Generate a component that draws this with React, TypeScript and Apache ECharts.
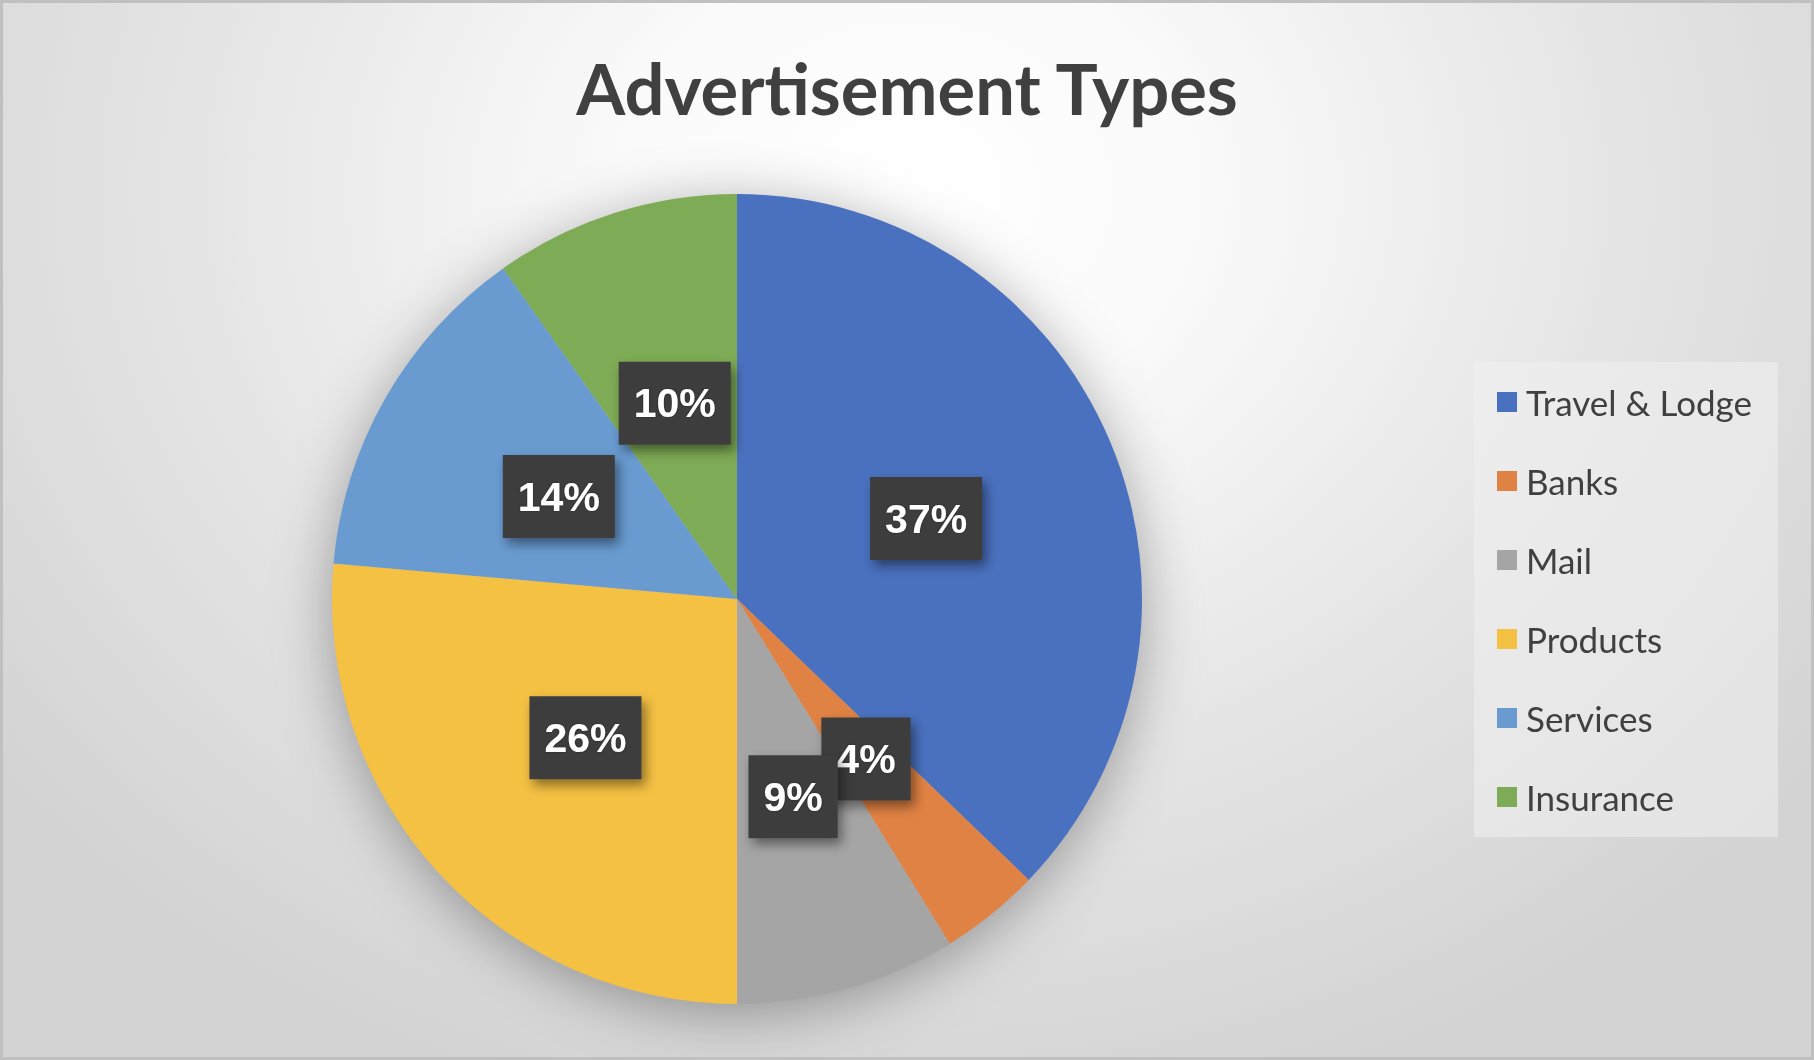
import React, { useEffect, useRef } from "react";
import * as echarts from "echarts";

const categories = ["Travel & Lodge", "Banks", "Mail", "Products", "Services", "Insurance"];
const values = [37.2, 4.0, 8.8, 26.4, 13.8, 9.8];
const colors = ["#4a71bf", "#e08243", "#a5a5a5", "#f5c143", "#699bd1", "#7eab55"];
const titleText = "Advertisement Types";

export default function App() {
  const ref = useRef<HTMLDivElement>(null);
  useEffect(() => {
    document.body.style.margin = "0";
    const chart = echarts.init(ref.current!, null, { renderer: "svg" });
    const data = categories.map((name, i) => ({
      name,
      value: values[i],
      itemStyle: { color: colors[i] },
    }));
    chart.setOption({
      animation: false,
      title: {
        text: titleText,
        left: "center",
        top: 47,
        textStyle: {
          fontFamily: "Lato",
          fontWeight: "bold",
          fontSize: 70.5,
          color: "#404040",
        },
      },
      legend: {
        orient: "vertical",
        left: 1497,
        top: 382,
        padding: 0,
        itemWidth: 20,
        itemHeight: 20,
        itemGap: 39,
        icon: "rect",
        data: categories,
        textStyle: {
          fontFamily: "Lato",
          fontSize: 35,
          lineHeight: 40,
          color: "#404040",
          padding: [0, 0, 0, 4],
        },
      },
      graphic: [
        {
          type: "rect",
          z: -10,
          shape: { x: 1474, y: 362, width: 304, height: 475 },
          style: { fill: "rgba(240,240,240,0.55)" },
        },
        {
          type: "circle",
          z: -5,
          shape: { cx: 737, cy: 599, r: 404 },
          style: {
            fill: "#bbbbbb",
            shadowBlur: 60,
            shadowOffsetY: 10,
            shadowColor: "rgba(0,0,0,0.35)",
          },
        },
      ],
      series: [
        {
          type: "pie",
          center: [737, 599],
          radius: [0, 405],
          startAngle: 90,
          clockwise: true,
          avoidLabelOverlap: false,
          labelLayout: { hideOverlap: false },
          data,
          itemStyle: { borderWidth: 0 },
          emphasis: { disabled: true },
          labelLine: { show: false },
          label: {
            show: true,
            position: "inside",
            formatter: (p: any) => Math.round(p.percent) + "%",
            fontFamily: "Liberation Sans",
            fontWeight: "bold",
            fontSize: 41,
            lineHeight: 41,
            color: "#ffffff",
            backgroundColor: "#3e3e3e",
            padding: [21, 15],
            shadowBlur: 12,
            shadowOffsetX: 4,
            shadowOffsetY: 6,
            shadowColor: "rgba(0,0,0,0.45)",
            textShadowColor: "rgba(0,0,0,0.4)",
            textShadowBlur: 2,
          },
        },
      ],
    });
    return () => chart.dispose();
  }, []);
  return (
    <div
      style={{
        position: "fixed",
        left: 0,
        top: 0,
        width: 1814,
        height: 1060,
        background:
          "radial-gradient(ellipse 1150px 950px at 50% 18%, #ffffff 0%, #fafafa 25%, #e6e6e6 60%, #d3d3d3 100%)",
      }}
    >
      <div ref={ref} style={{ position: "absolute", left: 0, top: 0, width: 1814, height: 1060 }} />
      <div
        style={{
          position: "absolute",
          left: 0,
          top: 0,
          width: 1814,
          height: 1060,
          boxSizing: "border-box",
          border: "3px solid #c0c0c0",
          pointerEvents: "none",
        }}
      />
    </div>
  );
}
